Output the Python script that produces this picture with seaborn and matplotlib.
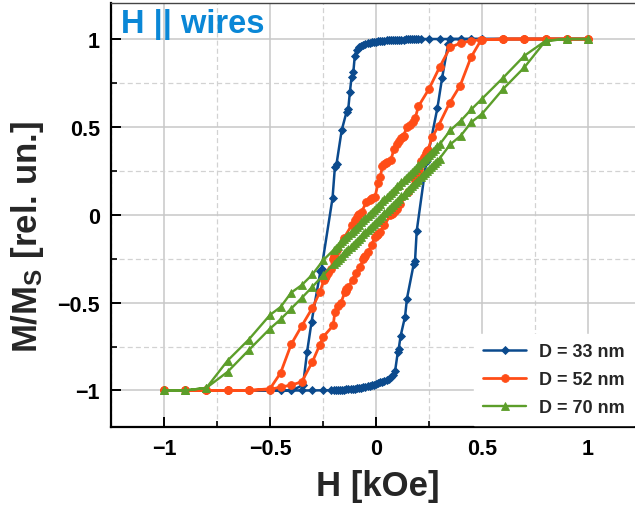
import numpy as np
import pandas as pd
import matplotlib
matplotlib.use("Agg")
import matplotlib.pyplot as plt
from matplotlib.ticker import MultipleLocator, FixedLocator
import seaborn as sns

# ---------------- data ----------------
# D = 33 nm : descending branch (H from +1 to -1)
d33_desc_H = [1.0, 0.9, 0.8, 0.7, 0.6, 0.5, 0.45, 0.4, 0.35, 0.3, 0.25,
              0.21, 0.20, 0.19, 0.18, 0.17, 0.16, 0.15, 0.14, 0.13, 0.12, 0.11,
              0.10, 0.09, 0.08, 0.07, 0.06, 0.05, 0.04, 0.03, 0.02, 0.01, 0.00,
              -0.01, -0.02, -0.03, -0.04, -0.05, -0.06, -0.07, -0.08, -0.09, -0.10,
              -0.107, -0.115, -0.123, -0.131, -0.139, -0.162, -0.186, -0.194, -0.205,
              -0.257, -0.262, -0.304, -0.325, -0.344, -0.4, -0.45, -0.5, -0.6, -0.7,
              -0.8, -0.9, -1.0]
d33_desc_M = [1, 1, 1, 1, 1, 1, 1, 1, 1, 1, 1,
              1.0, 1.0, 0.999, 0.999, 0.999, 0.998, 0.998, 0.998, 0.997, 0.997, 0.997,
              0.996, 0.996, 0.995, 0.994, 0.993, 0.992, 0.991, 0.99, 0.988, 0.987, 0.985,
              0.983, 0.981, 0.978, 0.975, 0.972, 0.967, 0.961, 0.953, 0.94, 0.905,
              0.81, 0.786, 0.70, 0.60, 0.585, 0.48, 0.29, 0.27, 0.095,
              -0.307, -0.32, -0.61, -0.78, -0.97, -1, -1, -1, -1, -1,
              -1, -1, -1]
# D = 33 nm : ascending branch (H from -1 to +1)
d33_asc_H = [-1.0, -0.9, -0.8, -0.7, -0.6, -0.5, -0.45, -0.4, -0.35, -0.3, -0.25,
             -0.21, -0.20, -0.19, -0.18, -0.17, -0.16, -0.15, -0.14, -0.13, -0.12, -0.11,
             -0.10, -0.09, -0.08, -0.07, -0.06, -0.05, -0.04, -0.03, -0.02, -0.01, 0.00,
             0.01, 0.02, 0.03, 0.04, 0.05, 0.06, 0.07, 0.08, 0.09,
             0.103, 0.107, 0.116, 0.137, 0.146, 0.178, 0.184, 0.192, 0.237, 0.242,
             0.29, 0.312, 0.34, 0.35, 0.4, 0.45, 0.5, 0.6, 0.7, 0.8, 0.9, 1.0]
d33_asc_M = [-1, -1, -1, -1, -1, -1, -1, -1, -1, -1, -0.999,
             -0.999, -0.998, -0.998, -0.997, -0.997, -0.996, -0.995, -0.994, -0.993, -0.992, -0.991,
             -0.99, -0.988, -0.987, -0.985, -0.983, -0.98, -0.977, -0.974, -0.971, -0.967, -0.963,
             -0.959, -0.954, -0.949, -0.944, -0.938, -0.932, -0.922, -0.91, -0.89,
             -0.78, -0.765, -0.69, -0.58, -0.477, -0.28, -0.265, -0.093, 0.30, 0.32,
             0.61, 0.78, 0.97, 1, 1, 1, 1, 1, 1, 1, 1, 1]

# D = 52 nm
d52_desc_H = [1.0, 0.9, 0.8, 0.7, 0.6, 0.5, 0.45, 0.40, 0.35, 0.30, 0.25, 0.20,
              0.185, 0.175, 0.16, 0.145, 0.13, 0.125, 0.12, 0.11, 0.10, 0.085, 0.07, 0.05,
              0.045, 0.04, 0.03, 0.02, 0.01, -0.005, -0.02, -0.025, -0.03, -0.045, -0.068,
              -0.08, -0.085, -0.09, -0.10, -0.115, -0.15, -0.186, -0.195, -0.2, -0.205,
              -0.21, -0.225, -0.235, -0.24, -0.245, -0.265, -0.30, -0.35, -0.40, -0.45,
              -0.50, -0.6, -0.7, -0.8, -0.9, -1.0]
d52_desc_M = [1, 1, 1, 1, 1, 0.997, 0.99, 0.977, 0.953, 0.84, 0.716, 0.617,
              0.55, 0.53, 0.51, 0.498, 0.45, 0.443, 0.435, 0.42, 0.405, 0.375, 0.31, 0.30,
              0.295, 0.29, 0.275, 0.214, 0.18, 0.10, 0.093, 0.089, 0.085, 0.075, 0.015,
              0.005, -0.003, -0.01, -0.03, -0.06, -0.13, -0.2, -0.22, -0.235, -0.25,
              -0.307, -0.33, -0.35, -0.36, -0.37, -0.44, -0.53, -0.632, -0.737, -0.90,
              -0.99, -1, -1, -1, -1, -1]
d52_asc_H = [-1.0, -0.9, -0.8, -0.7, -0.6, -0.5, -0.45, -0.40, -0.35, -0.30, -0.265,
             -0.249, -0.202, -0.194, -0.18, -0.165, -0.147, -0.143, -0.14, -0.131, -0.11,
             -0.095, -0.075, -0.06, -0.055, -0.05, -0.036, -0.02, -0.005, 0.003, 0.007,
             0.01, 0.019, 0.04, 0.066, 0.075, 0.08, 0.09, 0.098, 0.115, 0.15, 0.186,
             0.195, 0.2, 0.205, 0.21, 0.225, 0.235, 0.24, 0.245, 0.265, 0.295, 0.347,
             0.397, 0.448, 0.496, 0.6, 0.7, 0.8, 0.9, 1.0]
d52_asc_M = [-1, -1, -1, -1, -1, -0.995, -0.98, -0.97, -0.95, -0.837, -0.74,
             -0.695, -0.63, -0.553, -0.52, -0.50, -0.44, -0.432, -0.425, -0.41, -0.37,
             -0.33, -0.30, -0.25, -0.243, -0.235, -0.21, -0.17, -0.125, -0.118, -0.113,
             -0.108, -0.098, -0.06, -0.004, 0.003, 0.01, 0.02, 0.034, 0.06, 0.13, 0.20,
             0.23, 0.245, 0.26, 0.307, 0.33, 0.35, 0.36, 0.37, 0.44, 0.507, 0.636,
             0.735, 0.896, 0.995, 1, 1, 1, 1, 1]

# D = 70 nm
d70_desc_H = [1.0, 0.9, 0.8, 0.7, 0.6, 0.5, 0.45, 0.4, 0.35,
              0.30, 0.29, 0.28, 0.27, 0.26, 0.25, 0.24, 0.23, 0.22, 0.21, 0.20,
              0.19, 0.18, 0.17, 0.16, 0.15, 0.14, 0.13, 0.12, 0.11, 0.10,
              0.09, 0.08, 0.07, 0.06, 0.05, 0.04, 0.03, 0.02, 0.01, 0.00,
              -0.01, -0.02, -0.03, -0.04, -0.05, -0.06, -0.07, -0.08, -0.09, -0.10,
              -0.11, -0.12, -0.13, -0.14, -0.15, -0.16, -0.17, -0.18, -0.19, -0.20,
              -0.25, -0.30, -0.35, -0.40, -0.45, -0.5, -0.6, -0.7, -0.8, -0.9, -1.0]
d70_desc_M = [1, 1, 0.99, 0.905, 0.78, 0.66, 0.60, 0.535, 0.48,
              0.40, 0.389, 0.377, 0.364, 0.353, 0.341, 0.328, 0.317, 0.304, 0.292, 0.281,
              0.268, 0.257, 0.244, 0.232, 0.221, 0.208, 0.197, 0.184, 0.172, 0.161,
              0.148, 0.137, 0.124, 0.112, 0.101, 0.088, 0.077, 0.064, 0.052, 0.041,
              0.028, 0.017, 0.004, -0.008, -0.019, -0.032, -0.043, -0.056, -0.068, -0.079,
              -0.092, -0.103, -0.116, -0.128, -0.139, -0.152, -0.163, -0.176, -0.188, -0.20,
              -0.26, -0.34, -0.40, -0.443, -0.525, -0.57, -0.71, -0.83, -0.985, -1, -1]
d70_asc_H = [-1.0, -0.9, -0.8, -0.7, -0.6, -0.5, -0.45, -0.4, -0.35, -0.30, -0.25,
             -0.20, -0.19, -0.18, -0.17, -0.16, -0.15, -0.14, -0.13, -0.12, -0.11,
             -0.10, -0.09, -0.08, -0.07, -0.06, -0.05, -0.04, -0.03, -0.02, -0.01,
             0.00, 0.01, 0.02, 0.03, 0.04, 0.05, 0.06, 0.07, 0.08, 0.09,
             0.10, 0.11, 0.12, 0.13, 0.14, 0.15, 0.16, 0.17, 0.18, 0.19,
             0.20, 0.21, 0.22, 0.23, 0.24, 0.25, 0.26, 0.27, 0.28, 0.29, 0.30,
             0.35, 0.40, 0.45, 0.5, 0.6, 0.7, 0.8, 0.9, 1.0]
d70_asc_M = [-1, -1, -0.985, -0.894, -0.77, -0.648, -0.595, -0.534, -0.473, -0.41, -0.345,
             -0.28, -0.269, -0.256, -0.244, -0.233, -0.22, -0.208, -0.197, -0.184, -0.172,
             -0.161, -0.148, -0.136, -0.125, -0.112, -0.1, -0.088, -0.077, -0.064, -0.052,
             -0.041, -0.028, -0.016, -0.005, 0.008, 0.02, 0.032, 0.043, 0.056, 0.068,
             0.079, 0.092, 0.104, 0.115, 0.128, 0.14, 0.152, 0.163, 0.176, 0.188,
             0.199, 0.212, 0.224, 0.235, 0.248, 0.26, 0.272, 0.283, 0.296, 0.308, 0.32,
             0.40, 0.45, 0.527, 0.574, 0.716, 0.839, 0.99, 1, 1]

series_labels = ["D = 33 nm", "D = 52 nm", "D = 70 nm"]
series_colors = ["#0b4a8d", "#ff4d17", "#5c9e2a"]
xtick_vals = [-1, -0.5, 0, 0.5, 1]
xtick_labels = ["\u22121", "\u22120.5", "0", "0.5", "1"]
ytick_vals = [-1, -0.5, 0, 0.5, 1]
ytick_labels = ["\u22121", "\u22120.5", "0", "0.5", "1"]

# ---------------- style ----------------
sns.set_theme(style="white")
plt.rcParams["font.family"] = ["Liberation Sans", "DejaVu Sans"]
plt.rcParams["font.weight"] = "bold"
plt.rcParams["mathtext.fontset"] = "custom"
plt.rcParams["mathtext.rm"] = "Liberation Sans:bold"
plt.rcParams["mathtext.bf"] = "Liberation Sans:bold"
plt.rcParams["mathtext.it"] = "Liberation Sans:bold"

fig = plt.figure(figsize=(6.35, 5.10), dpi=100)
ax = fig.add_axes([111 / 635, (510 - 427.5) / 510, 530 / 635, 423.5 / 510])

loops = [
    (d33_desc_H + d33_asc_H, d33_desc_M + d33_asc_M, "D", 3.8, 1.8),
    (d52_desc_H + d52_asc_H, d52_desc_M + d52_asc_M, "o", 5.6, 2.0),
    (d70_desc_H + d70_asc_H, d70_desc_M + d70_asc_M, "^", 5.2, 1.7),
]
for i, (hh, mm, mk, ms, lw) in enumerate(loops):
    df = pd.DataFrame({"H": hh, "M": mm})
    sns.lineplot(data=df, x="H", y="M", sort=False, estimator=None, ax=ax,
                 color=series_colors[i], marker=mk, markersize=ms,
                 markeredgewidth=0.6, markeredgecolor=series_colors[i],
                 linewidth=lw, label=series_labels[i], zorder=3 + i)

ax.set_xlim(-1.25, 1.25)
ax.set_ylim(-1.205, 1.205)
ax.xaxis.set_major_locator(FixedLocator(xtick_vals))
ax.yaxis.set_major_locator(FixedLocator(ytick_vals))
ax.set_xticklabels(xtick_labels)
ax.set_yticklabels(ytick_labels)
ax.xaxis.set_minor_locator(MultipleLocator(0.25))
ax.yaxis.set_minor_locator(MultipleLocator(0.25))

ax.grid(which="major", color="#c8c8c8", linewidth=1.1, linestyle="-", zorder=0)
ax.grid(which="minor", color="#d2d2d2", linewidth=0.9, linestyle=(0, (4, 2.5)), zorder=0)
ax.set_axisbelow(True)

ax.tick_params(which="both", direction="in", bottom=True, left=True, top=False, right=False,
               colors="black", labelsize=15.5)
ax.tick_params(which="major", length=7, width=1.4)
ax.tick_params(which="minor", length=4.5, width=1.2)
ax.tick_params(axis="x", pad=8)
ax.tick_params(axis="y", pad=8)
for lab in ax.get_xticklabels() + ax.get_yticklabels():
    lab.set_fontweight("bold")

for side in ["left", "bottom"]:
    ax.spines[side].set_color("black")
    ax.spines[side].set_linewidth(1.6)
ax.spines["top"].set_color("#444444")
ax.spines["top"].set_linewidth(1.0)
ax.spines["right"].set_visible(False)

ax.set_xlabel("H [kOe]", fontsize=25, fontweight="bold")
ax.set_ylabel(r"M/M$_{\mathrm{S}}$ [rel. un.]", fontsize=25, fontweight="bold")
ax.xaxis.set_label_coords(0.504, -0.1)
ax.yaxis.set_label_coords(-0.122, 0.45)

fig.text(121 / 635, 1 - 33 / 510, "H || wires", ha="left", va="baseline",
         fontsize=23.5, fontweight="bold", color="#0a87d6")

leg = ax.legend(loc="lower right", bbox_to_anchor=(1.012, 0.147), bbox_transform=fig.transFigure,
                frameon=True, facecolor="white", edgecolor="white", framealpha=1.0,
                fancybox=False, prop={"weight": "bold", "size": 13},
                handlelength=2.4, labelspacing=0.6, borderpad=0.5, handletextpad=0.7)
leg.set_zorder(10)

fig.savefig("out.png", dpi=100)
